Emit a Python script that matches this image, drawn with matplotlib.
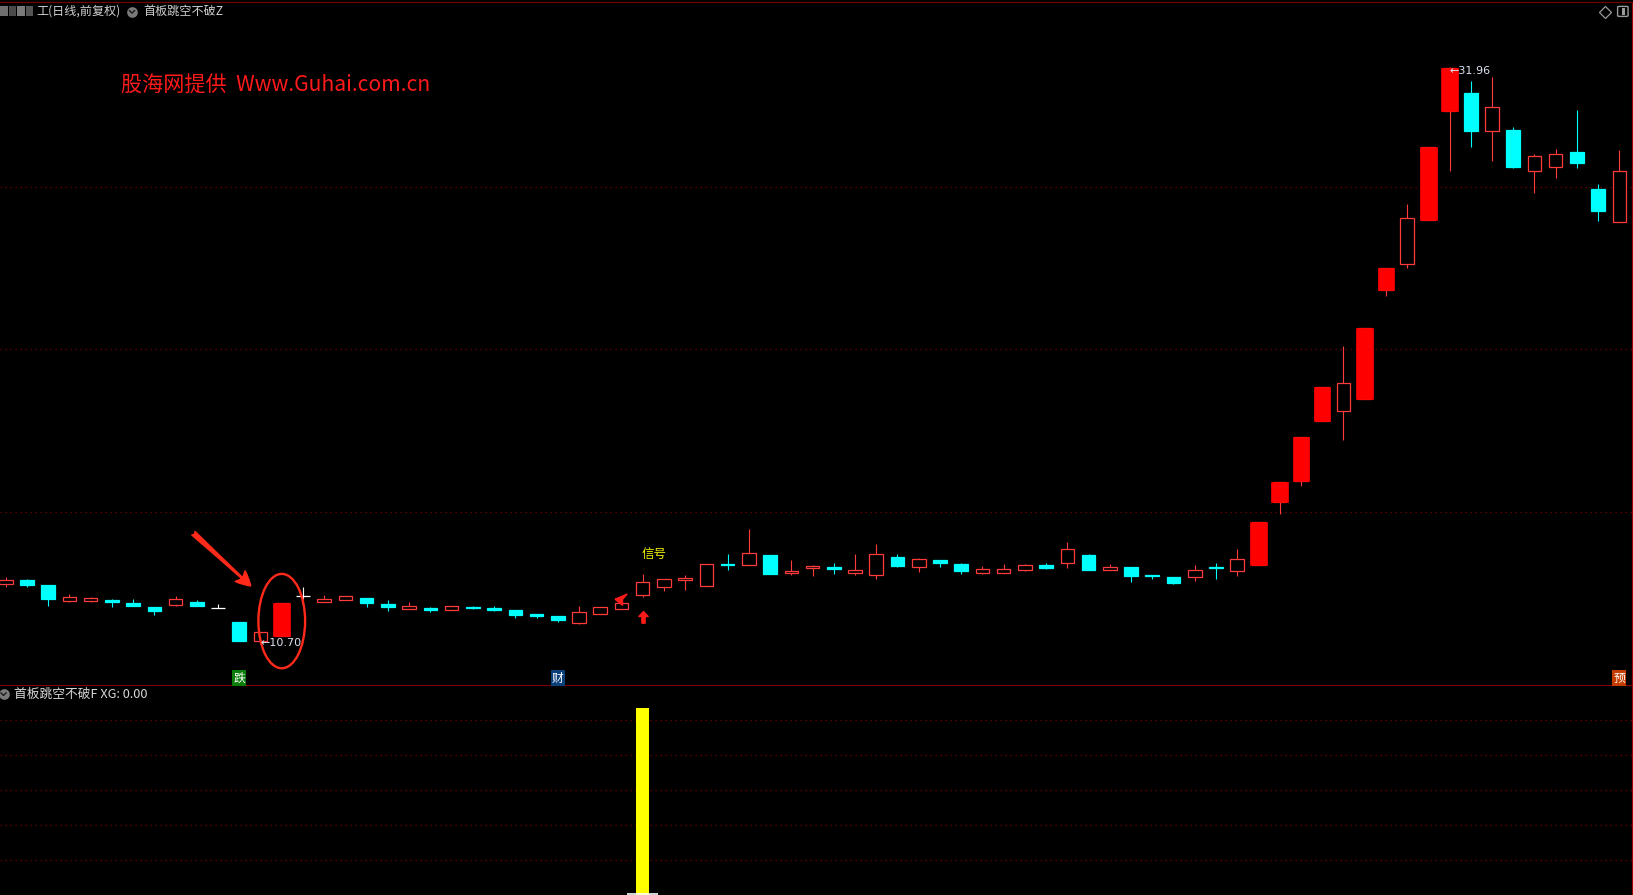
# 首板跳空不破 K线复刻
import pandas as pd
import matplotlib
matplotlib.use('Agg')
import matplotlib.pyplot as plt
from matplotlib.patches import Rectangle, Ellipse, FancyArrowPatch, FancyBboxPatch
from matplotlib.lines import Line2D
from matplotlib.transforms import offset_copy, blended_transform_factory

plt.rcParams['font.family'] = ['Noto Sans CJK SC', 'DejaVu Sans']

# 日线数据(前复权)
open_ = [12.81, 12.97, 12.78, 12.20, 12.18, 12.24, 12.12, 11.97, 12.03, 12.15,
         11.92, 11.41, 10.70, 10.91, 12.37, 12.14, 12.22, 12.30, 12.08, 11.91,
         11.93, 11.85, 11.97, 11.93, 11.86, 11.71, 11.64, 11.39, 11.72, 11.91,
         12.42, 12.72, 12.97, 12.76, 13.56, 13.53, 13.89, 13.22, 13.42, 13.45,
         13.24, 13.16, 13.82, 13.46, 13.71, 13.56, 13.24, 13.24, 13.35, 13.52,
         13.61, 13.89, 13.35, 13.45, 13.15, 13.08, 13.09, 13.44, 13.29, 13.52,
         15.87, 16.63, 18.85, 19.21, 19.67, 23.71, 24.65, 26.30, 30.33, 30.99,
         29.56, 29.62, 28.11, 28.24, 28.80, 27.44, 26.20]
high = [13.07, 13.01, 12.79, 12.45, 12.35, 12.27, 12.27, 11.98, 12.38, 12.23,
        12.07, 11.41, 11.03, 12.13, 12.70, 12.41, 12.39, 12.30, 12.23, 12.15,
        11.97, 12.00, 12.01, 12.01, 11.86, 11.71, 11.64, 12.01, 11.96, 12.11,
        13.19, 12.99, 13.15, 13.55, 13.93, 14.86, 13.89, 13.71, 13.52, 13.60,
        13.93, 14.30, 13.93, 13.78, 13.71, 13.60, 13.49, 13.56, 13.56, 13.60,
        14.37, 13.93, 13.56, 13.45, 13.15, 13.08, 13.52, 13.60, 14.12, 15.10,
        16.61, 18.27, 20.10, 21.63, 22.28, 24.51, 26.88, 28.99, 31.96, 31.43,
        31.59, 29.73, 28.73, 28.92, 30.36, 27.62, 28.88]
low = [12.70, 12.72, 12.01, 12.17, 12.17, 11.98, 12.01, 11.68, 12.02, 12.01,
       11.92, 10.72, 10.70, 10.91, 12.26, 12.14, 12.22, 11.98, 11.81, 11.91,
       11.80, 11.85, 11.91, 11.83, 11.57, 11.57, 11.43, 11.34, 11.72, 11.91,
       12.35, 12.57, 12.61, 12.76, 13.35, 13.53, 13.20, 13.16, 13.12, 13.19,
       13.15, 13.01, 13.45, 13.26, 13.45, 13.19, 13.19, 13.24, 13.30, 13.38,
       13.41, 13.34, 13.35, 12.89, 13.01, 12.82, 12.94, 13.02, 13.13, 13.52,
       15.42, 16.46, 18.85, 18.16, 19.67, 23.49, 24.52, 26.30, 28.08, 29.00,
       28.45, 28.19, 27.30, 27.85, 28.19, 26.26, 26.20]
close = [12.97, 12.79, 12.28, 12.33, 12.30, 12.17, 12.02, 11.83, 12.26, 12.02,
         11.92, 10.72, 11.03, 12.13, 12.37, 12.26, 12.37, 12.11, 11.96, 12.01,
         11.87, 12.00, 11.93, 11.87, 11.68, 11.65, 11.50, 11.77, 11.96, 12.11,
         12.88, 12.99, 13.04, 13.55, 13.54, 13.96, 13.20, 13.30, 13.49, 13.39,
         13.34, 13.93, 13.49, 13.75, 13.60, 13.30, 13.38, 13.38, 13.52, 13.41,
         14.12, 13.34, 13.45, 13.12, 13.13, 12.86, 13.33, 13.42, 13.73, 15.10,
         16.61, 18.27, 20.10, 20.25, 22.28, 24.51, 26.35, 28.99, 31.89, 29.59,
         30.46, 28.26, 28.65, 28.72, 28.41, 26.63, 28.09]

# 公式画的涨停实心柱
limit_up = [13, 59, 60, 61, 62, 64, 65, 67, 68]
# XG 选股信号
xg = [0] * 30 + [1] + [0] * 46
# K线下方的小标记
tag_days = [11, 26, 76]
tag_text = ['跌', '财', '预']
tag_color = ['#0b7d0b', '#0b3f7a', '#c43c00']

df = pd.DataFrame({'open': open_, 'high': high, 'low': low, 'close': close})
n = len(df)
sig = xg.index(1)

W_PX, H_PX = 1633, 895
fx = lambda x: x / W_PX
fy = lambda y: 1 - y / H_PX

fig = plt.figure(figsize=(W_PX / 100 + 0.001, H_PX / 100 + 0.001), dpi=100, facecolor='black')
ax1 = fig.add_axes([0, fy(686), fx(1632), fy(2) - fy(686)], facecolor='black')
ax2 = fig.add_axes([0, 0, fx(1632), fy(686)], facecolor='black')

RED, RED_LINE, CYAN = '#ff0000', '#ff3b3b', '#00ffff'
GRID = '#7a0000'
W, W_LIMIT = 0.64, 0.78

# 主图网格
for gy in [15.47, 21.50, 27.50]:
    ax1.axhline(gy, color=GRID, lw=0.9, ls=(0, (1, 3)), zorder=1)

# K线
for i, r in df.iterrows():
    o, h, l, c = r['open'], r['high'], r['low'], r['close']
    if c > o:
        col, face = RED_LINE, 'black'
    elif c < o:
        col, face = CYAN, CYAN
    else:
        col, face = 'white', 'white'
    ax1.vlines(i, l, h, color=col, lw=0.8, zorder=2)
    ax1.add_patch(Rectangle((i - W / 2, min(o, c)), W, abs(c - o),
                            facecolor=face, edgecolor=col, lw=0.9, zorder=3))
    if i in limit_up:
        ax1.add_patch(Rectangle((i - W_LIMIT / 2, o), W_LIMIT, c - o,
                                facecolor=RED, edgecolor=RED, lw=0.5, zorder=4))

# 最高 / 最低价标注
hi_day, lo_day = df['high'].idxmax(), df['low'].idxmin()
ax1.annotate(f"←{df['high'].max():.2f}", xy=(hi_day, df['high'].max()), xytext=(0, -4),
             textcoords='offset pixels', ha='left', va='center', fontsize=8,
             color='#dde4f0', family='DejaVu Sans', zorder=6)
ax1.annotate(f"←{df['low'].min():.2f}", xy=(lo_day, df['low'].min()), xytext=(0, -2),
             textcoords='offset pixels', ha='left', va='center', fontsize=8,
             color='#dde4f0', family='DejaVu Sans', zorder=6)

# 红圈 + 红箭头 (首板)
ax1.add_patch(Ellipse((13, 11.45), 2.2, 3.49, fill=False, ec='#ff2a1a', lw=1.7, zorder=5))
ax1.add_patch(FancyArrowPatch((8.84, 14.70), (11.54, 12.75),
                              arrowstyle='fancy,head_length=0.65,head_width=0.65,tail_width=0.22',
                              mutation_scale=16, color='#ff2a1a', shrinkA=0, shrinkB=0, zorder=5))

# 信号文字 + 上箭头
ax1.annotate('信号', xy=(sig, high[sig]), xytext=(11, 20), textcoords='offset pixels',
             ha='center', va='center', fontsize=9, color='#f2f200', zorder=6)
up_arrow = [(0, 6), (-4.7, 1), (-1.6, 1), (-1.6, -5.7), (1.6, -5.7), (1.6, 1), (4.7, 1), (0, 6)]
ax1.plot(sig, low[sig], marker=up_arrow, ms=8.6, color='#ff1a1a', mec='#ff1a1a', ls='none',
         transform=offset_copy(ax1.transData, fig=fig, x=0, y=-20, units='dots'), zorder=6)
head = [(-6.5, 0.3), (5.5, 5.3), (1.0, 0.2), (1.0, -5.7), (-6.5, 0.3)]
ax1.plot(sig - 1, close[sig - 1], marker=head, ms=9.4, color='#ff1a1a', mec='#ff1a1a', ls='none',
         transform=offset_copy(ax1.transData, fig=fig, x=0, y=4, units='dots'), zorder=6)

# 底部标记
trans = blended_transform_factory(ax1.transData, ax1.transAxes)
for d, t, c in zip(tag_days, tag_text, tag_color):
    ax1.text(d, 0.0117, t, transform=trans, ha='center', va='center', fontsize=8.5,
             color='white', bbox=dict(boxstyle='square,pad=0.1', fc=c, ec='none'), zorder=6)

ax1.set_xlim(-0.27, 76.6)
ax1.set_ylim(9.05, 34.35)

# 副图 XG
ax2.bar(range(n), xg, width=0.61, color='#ffff00', zorder=3)
for k in range(1, 6):
    ax2.axhline(k * 0.187, color=GRID, lw=0.9, ls=(0, (1, 3)), zorder=1)
ax2.hlines(0.008, sig - 0.73, sig + 0.73, color='white', lw=1.2, zorder=4)
ax2.set_xlim(-0.27, 76.6)
ax2.set_ylim(0, 1.118)

for ax in (ax1, ax2):
    ax.set_xticks([])
    ax.set_yticks([])
    for s in ax.spines.values():
        s.set_visible(False)
    ax.spines['right'].set_visible(True)
    ax.spines['right'].set_color('#a00000')
ax1.spines['top'].set_visible(True)
ax1.spines['top'].set_color('#7a0000')
ax1.spines['bottom'].set_visible(True)
ax1.spines['bottom'].set_color('#a00000')
ax1.spines['bottom'].set_linewidth(1.2)


def menu_icon(x, y):
    fig.add_artist(Line2D([fx(x)], [fy(y)], marker='o', ms=7.7, mfc='#7a7a7a', mec='none',
                          transform=fig.transFigure))
    fig.add_artist(Line2D([fx(x - 2.5), fx(x), fx(x + 2.5)], [fy(y - 1), fy(y + 1.5), fy(y - 1)],
                          color='#1a1a1a', lw=1.0, transform=fig.transFigure))


# 标题栏
for k, g in enumerate(['#8c8c8c', '#5e5e5e', '#9a9a9a', '#6a6a6a']):
    fig.add_artist(Rectangle((fx(k * 8.5), fy(16)), fx(7.5), fy(6) - fy(16), fc=g, ec='none',
                             alpha=0.8, transform=fig.transFigure))
fig.text(fx(36), fy(11), '工(日线,前复权)', fontsize=8.7, color='#d0d0d0', va='center')
menu_icon(132, 11.7)
fig.text(fx(143), fy(11), '首板跳空不破Z', fontsize=8.7, color='#d0d0d0', va='center')
fig.text(fx(121), fy(86), '股海网提供  Www.Guhai.com.cn', fontsize=15.2, color='#ff1a1a', va='center')

# 右上角图标
fig.add_artist(Line2D([fx(1605)], [fy(11.7)], marker='D', ms=6.5, mfc='none', mec='#9a9a9a',
                      mew=0.9, transform=fig.transFigure))
fig.add_artist(FancyBboxPatch((fx(1617.5), fy(16.5)), fx(10.5), fy(6.5) - fy(16.5),
                              boxstyle='round,pad=0,rounding_size=0.001', fc='none', ec='#9a9a9a',
                              lw=1.0, transform=fig.transFigure))
fig.add_artist(Rectangle((fx(1622.3), fy(15)), fx(2.7), fy(8) - fy(15), fc='#9a9a9a', ec='none',
                         transform=fig.transFigure))

# 副图标题
menu_icon(3.5, 694)
fig.text(fx(14), fy(694), f'首板跳空不破F XG: {xg[-1]:.2f}', fontsize=9.2, color='#d8d8d8', va='center')

fig.savefig('out.png', dpi=100, facecolor='black')
